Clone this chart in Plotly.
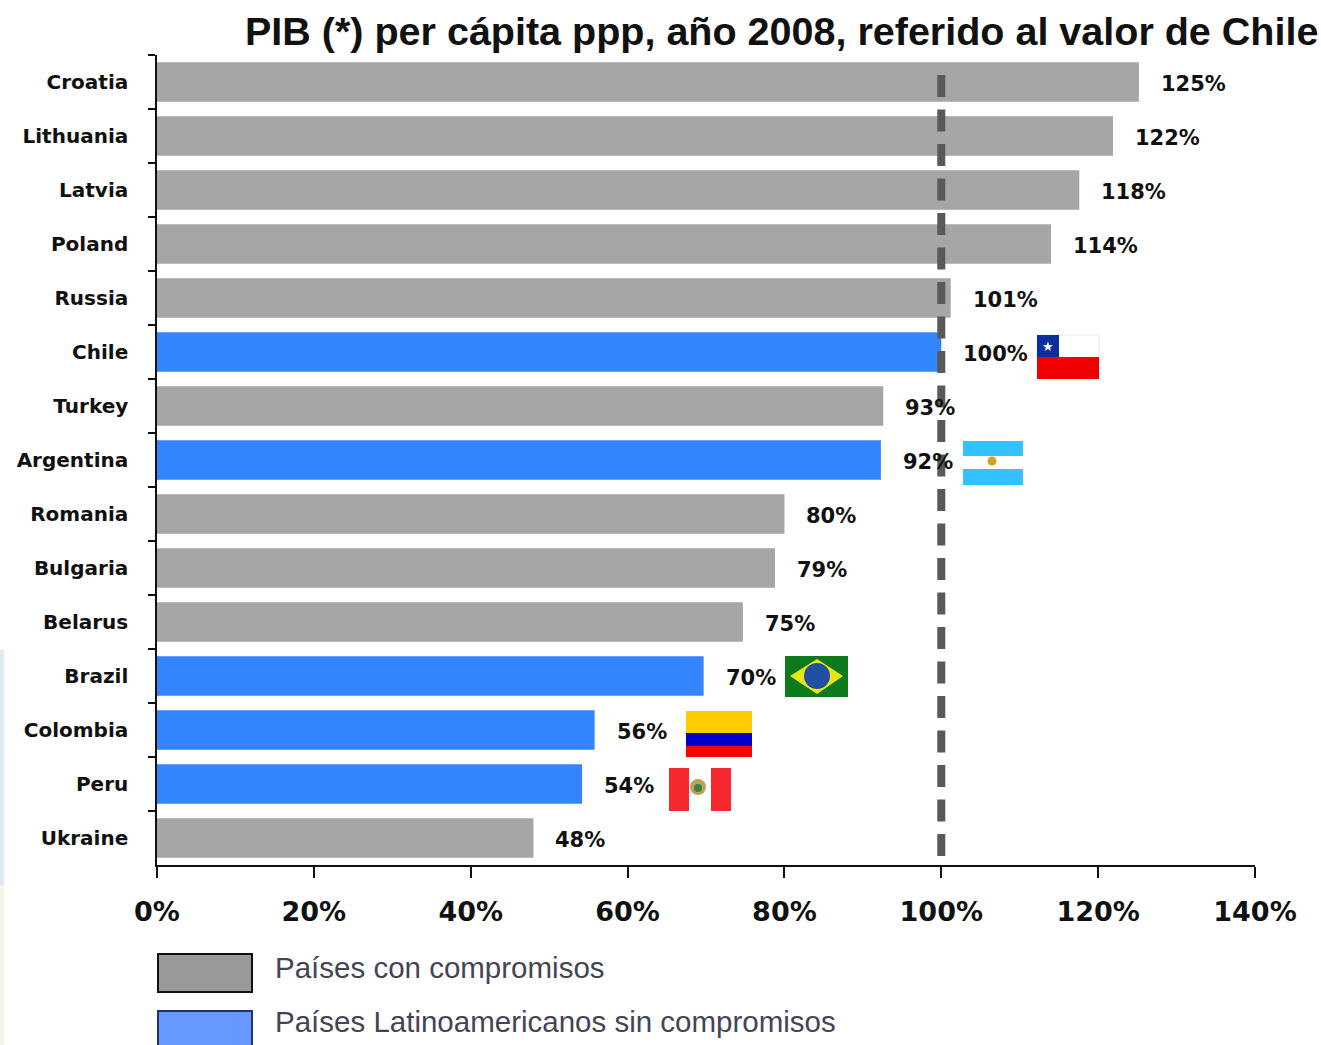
import plotly.graph_objects as go

countries = ["Croatia", "Lithuania", "Latvia", "Poland", "Russia", "Chile", "Turkey", "Argentina",
             "Romania", "Bulgaria", "Belarus", "Brazil", "Colombia", "Peru", "Ukraine"]
values = [125.2, 121.9, 117.6, 114.0, 101.2, 100.0, 92.6, 92.3, 80.0, 78.8, 74.7, 69.7, 55.8, 54.2, 48.0]
labels = [125, 122, 118, 114, 101, 100, 93, 92, 80, 79, 75, 70, 56, 54, 48]
latam = ["Chile", "Argentina", "Brazil", "Colombia", "Peru"]
x_ticks = [0, 20, 40, 60, 80, 100, 120, 140]
reference_value = 100
title_text = "PIB (*) per cápita ppp, año 2008, referido al valor de Chile"
legend_gray = "Países con compromisos"
legend_blue = "Países Latinoamericanos sin compromisos"

W, H = 1321, 1045
L, R, T, B = 157, 1255, 55, 865
GRAY, BLUE = "#a6a6a6", "#3385ff"


# plot-area fractions may exceed 0..1, so paper coordinates reach the whole page
def pa_x(x):
    return (x - L) / (R - L)


def pa_y(y):
    return (B - y) / (B - T)


def rect(x0, y0, x1, y1, fill, line=None, lw=0):
    return dict(type="rect", xref="paper", yref="paper", x0=pa_x(x0), x1=pa_x(x1), y0=pa_y(y0), y1=pa_y(y1),
                fillcolor=fill, line=dict(color=line or fill, width=lw), layer="above")


def circle(cx, cy, r, fill):
    return dict(type="circle", xref="paper", yref="paper", x0=pa_x(cx - r), x1=pa_x(cx + r), y0=pa_y(cy - r),
                y1=pa_y(cy + r), fillcolor=fill, line=dict(width=0), layer="above")


def poly(points, fill):
    path = "M " + " L ".join(f"{pa_x(a)},{pa_y(b)}" for a, b in points) + " Z"
    return dict(type="path", xref="paper", yref="paper", path=path, fillcolor=fill, line=dict(width=0), layer="above")


fig = go.Figure()
for name, colour, test in [(legend_gray, GRAY, lambda c: c not in latam), (legend_blue, BLUE, lambda c: c in latam)]:
    sel = [(c, v) for c, v in zip(countries, values) if test(c)]
    fig.add_bar(y=[s[0] for s in sel], x=[s[1] for s in sel], orientation="h", name=name,
                marker=dict(color=colour, line=dict(width=0)), showlegend=False)

shapes = [
    # page edge tint
    rect(0, 650, 4, 885, "#dde9f3"),
    rect(0, 885, 4, 1045, "#f1f6e6"),
    # reference line
    dict(type="line", xref="x", yref="paper", x0=reference_value, x1=reference_value, y0=pa_y(75), y1=pa_y(857),
         line=dict(color="#595959", width=8, dash="22px,12.5px"), layer="above"),
    # legend swatches
    rect(158, 954, 252, 992, "#999999", "#111111", 2),
    rect(158, 1011, 252, 1050, "#6699ff", "#223366", 2),
    # Chile
    rect(1037, 335, 1099, 357, "#ffffff", "#e6e6e6", 1),
    rect(1037, 357, 1099, 379, "#f00000"),
    rect(1037, 335, 1059, 357, "#0a2f9e"),
    # Argentina
    rect(963, 441, 1023, 456, "#33c2ff"),
    rect(963, 469, 1023, 485, "#33c2ff"),
    circle(992, 461, 4.5, "#d4a11e"),
    # Brazil
    rect(785, 656, 848, 697, "#0f7a1c"),
    poly([(790, 676), (817, 659), (843, 676), (817, 694)], "#e6e619"),
    circle(817, 676, 13, "#1f4fa0"),
    # Colombia
    rect(686, 711, 752, 733, "#ffcc00"),
    rect(686, 733, 752, 746, "#0000c8"),
    rect(686, 746, 752, 757, "#ff0000"),
    # Peru
    rect(669, 768, 689, 811, "#f5282d"),
    rect(711, 768, 731, 811, "#f5282d"),
    circle(698, 787, 8, "#b9a35a"),
    circle(698, 788, 4, "#3f7f3f"),
]

annotations = [
    dict(x=v, y=c, xref="x", yref="y", text=f"{t}%", showarrow=False, xanchor="left", xshift=20, yshift=-2,
         font=dict(family="DejaVu Sans", size=21, color="#111111", weight="bold"))
    for c, v, t in zip(countries, values, labels)
]
annotations += [
    dict(x=pa_x(1320), y=pa_y(31), xref="paper", yref="paper", text=title_text, showarrow=False, xanchor="right",
         yanchor="middle", font=dict(family="Liberation Sans", size=39.5, color="#111111", weight="bold")),
    dict(x=pa_x(273), y=pa_y(967), xref="paper", yref="paper", text=legend_gray, showarrow=False, xanchor="left",
         yanchor="middle", font=dict(family="Liberation Sans", size=29.5, color="#444455")),
    dict(x=pa_x(273), y=pa_y(1022), xref="paper", yref="paper", text=legend_blue, showarrow=False, xanchor="left",
         yanchor="middle", font=dict(family="Liberation Sans", size=29.5, color="#444455")),
    dict(x=pa_x(1048), y=pa_y(346), xref="paper", yref="paper", text="★", showarrow=False, xanchor="center",
         yanchor="middle", font=dict(family="DejaVu Sans", size=13, color="#ffffff")),
]

fig.update_layout(
    width=W, height=H, autosize=False, paper_bgcolor="#ffffff", plot_bgcolor="#ffffff",
    margin=dict(l=L, r=W - R, t=T, b=H - B, pad=0),
    barmode="overlay", bargap=0.27,
    shapes=shapes, annotations=annotations,
    xaxis=dict(range=[0, 140], tickvals=x_ticks, ticktext=[f"{t}%" for t in x_ticks], ticks="outside", ticklen=11,
               tickcolor="#111111", tickwidth=1.5, showline=True, linecolor="#111111", linewidth=1.5, showgrid=False,
               zeroline=False, ticklabelstandoff=11, tickangle=0,
               tickfont=dict(family="DejaVu Sans", size=27, color="#111111", weight="bold")),
    yaxis=dict(categoryorder="array", categoryarray=countries, autorange="reversed", tickson="boundaries",
               ticks="outside", ticklen=7, tickcolor="#111111", tickwidth=1.5, showline=True, linecolor="#111111",
               linewidth=1.5, showgrid=False, zeroline=False, ticklabelstandoff=23,
               tickfont=dict(family="DejaVu Sans", size=20, color="#111111", weight="bold")),
)

fig.write_html("out.html", config={"displayModeBar": False},
               post_script="document.body.style.margin='0';document.documentElement.style.overflow='hidden';")
